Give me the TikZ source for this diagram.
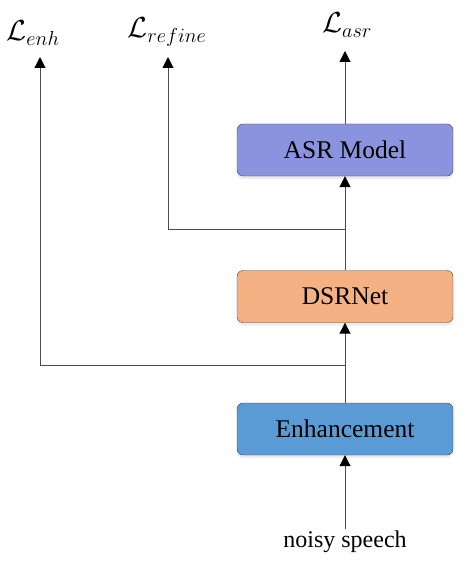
\RequirePackage{fix-cm}
\documentclass[tikz,border=0pt]{standalone}
\usepackage{fontspec}
\setmainfont{Liberation Serif}
\usetikzlibrary{arrows.meta,shadows}
\definecolor{asrblue}{HTML}{8A93DE}
\definecolor{dsrorange}{HTML}{F4B183}
\definecolor{enhblue}{HTML}{5B9BD5}

\begin{document}
\begin{tikzpicture}[x=1pt,y=-1pt,
    block/.style={draw=black!75,rounded corners=6pt,minimum width=216pt,minimum height=52pt,inner sep=0pt,
      font=\fontsize{25.5}{30}\selectfont,drop shadow={shadow xshift=0pt,shadow yshift=-3pt,opacity=0.15}},
    loss/.style={inner sep=0pt,font=\fontsize{29}{32}\selectfont},
    flow/.style={draw=black!70,line width=1pt,-{Triangle[width=11pt,length=11pt,color=black]}}]
    \useasboundingbox (0,0) rectangle (464,567);
    \node[block,fill=asrblue] (asr) at (345,150) {ASR Model};
    \node[block,fill=dsrorange] (dsr) at (345,296.5) {DSRNet};
    \node[block,fill=enhblue] (enh) at (345,429) {Enhancement};
    \node[font=\fontsize{24}{28}\selectfont,inner sep=2pt] (noisy) at (345,542) {noisy speech};
    \node[loss] (lasr) at (347,25) {$\mathcal{L}_{asr}$};
    \node[loss] (lref) at (167,32) {$\mathcal{L}_{refine}$};
    \node[loss] (lenh) at (33,33) {$\mathcal{L}_{enh}$};
    \coordinate (tasr) at (345,51);
    \coordinate (tref) at (168,57);
    \coordinate (tenh) at (40,57);
    \coordinate (b1) at (345,365);
    \coordinate (b2) at (345,229);
    \draw[flow] (noisy) -- (enh);
    \draw[flow] (enh) -- (dsr);
    \draw[flow] (dsr) -- (asr);
    \draw[flow] (asr) -- (tasr);
    \draw[flow] (b1) -| (tenh);
    \draw[flow] (b2) -| (tref);
\end{tikzpicture}
\end{document}
